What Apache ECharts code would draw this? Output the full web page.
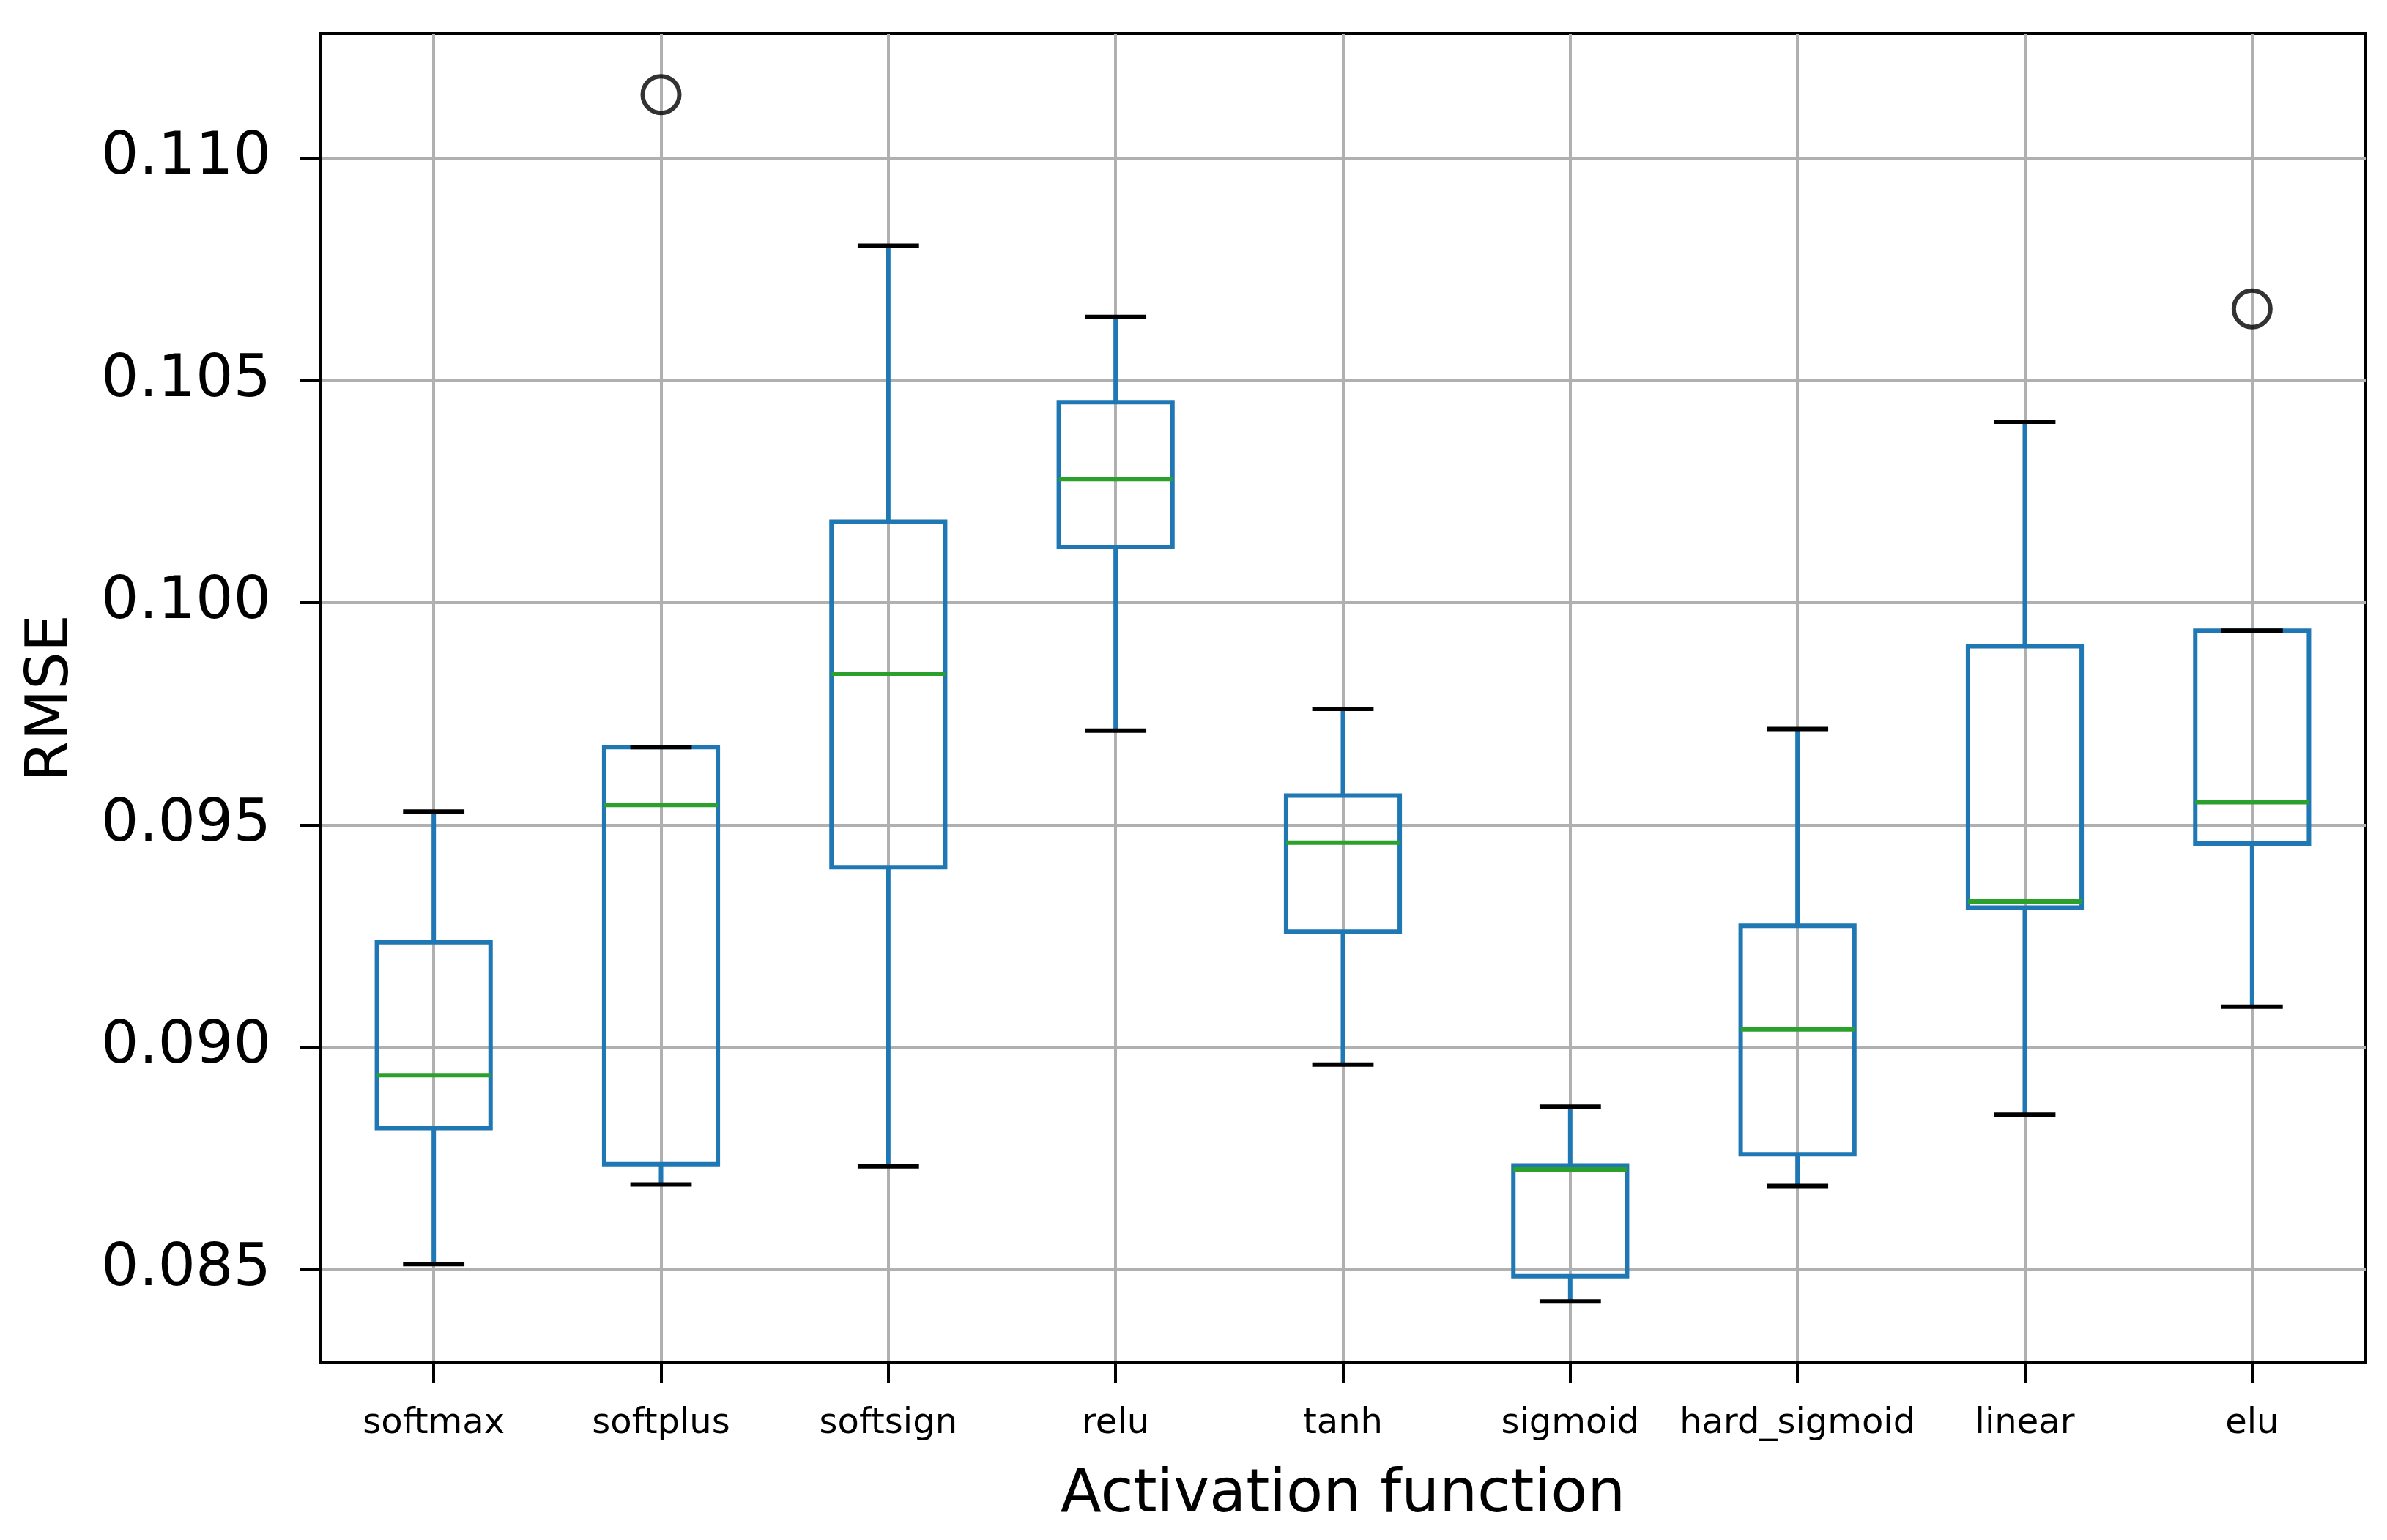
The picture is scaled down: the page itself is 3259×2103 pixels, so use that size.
<!DOCTYPE html>
<html>
<head>
<meta charset="utf-8">
<script src="https://cdn.jsdelivr.net/npm/echarts@6/dist/echarts.min.js"></script>
<style>
html, body { margin: 0; padding: 0; background: #fff; }
#chart { width: 3259px; height: 2103px; }
</style>
</head>
<body>
<div id="chart"></div>
<script>
const categories = ['softmax', 'softplus', 'softsign', 'relu', 'tanh', 'sigmoid', 'hard_sigmoid', 'linear', 'elu'];
const whiskerLow  = [0.08512, 0.08691, 0.08732, 0.09712, 0.08961, 0.08428, 0.08688, 0.08848, 0.09091];
const q1          = [0.08818, 0.08737, 0.09405, 0.10125, 0.09260, 0.08485, 0.08759, 0.09314, 0.09458];
const median      = [0.08937, 0.09545, 0.09840, 0.10278, 0.09460, 0.08725, 0.09040, 0.09328, 0.09551];
const q3          = [0.09236, 0.09675, 0.10182, 0.10451, 0.09566, 0.08734, 0.09273, 0.09902, 0.09937];
const whiskerHigh = [0.09530, 0.09675, 0.10803, 0.10643, 0.09761, 0.08866, 0.09716, 0.10407, 0.09937];
const outlierCategory = ['softplus', 'elu'];
const outlierValue    = [0.11143, 0.10661];
const yTicks = [0.085, 0.090, 0.095, 0.100, 0.105, 0.110];

const FONT = 'DejaVu Sans';
const BLUE = '#1f77b4', GREEN = '#2ca02c';

const boxData = categories.map((c, i) => [i, whiskerLow[i], q1[i], median[i], q3[i], whiskerHigh[i]]);
const outlierData = outlierCategory.map((c, k) => [categories.indexOf(c), outlierValue[k]]);

function renderBox(params, api) {
  const x = api.value(0);
  const lo = api.coord([x, api.value(1)]);
  const b1 = api.coord([x, api.value(2)]);
  const md = api.coord([x, api.value(3)]);
  const b3 = api.coord([x, api.value(4)]);
  const hi = api.coord([x, api.value(5)]);
  const w = api.size([1, 0])[0];
  const bh = w * 0.25, ch = w * 0.135;
  const cx = lo[0];
  const lw = 6;
  return {
    type: 'group',
    children: [
      { type: 'rect', shape: { x: cx - bh, y: b3[1], width: 2 * bh, height: b1[1] - b3[1] },
        style: { fill: 'none', stroke: BLUE, lineWidth: lw } },
      { type: 'line', shape: { x1: cx, y1: b1[1], x2: cx, y2: lo[1] }, style: { stroke: BLUE, lineWidth: lw } },
      { type: 'line', shape: { x1: cx, y1: b3[1], x2: cx, y2: hi[1] }, style: { stroke: BLUE, lineWidth: lw } },
      { type: 'line', shape: { x1: cx - ch, y1: lo[1], x2: cx + ch, y2: lo[1] }, style: { stroke: '#000', lineWidth: lw } },
      { type: 'line', shape: { x1: cx - ch, y1: hi[1], x2: cx + ch, y2: hi[1] }, style: { stroke: '#000', lineWidth: lw } },
      { type: 'line', shape: { x1: cx - bh, y1: md[1], x2: cx + bh, y2: md[1] }, style: { stroke: GREEN, lineWidth: lw } }
    ]
  };
}

const chart = echarts.init(document.getElementById('chart'), null, { renderer: 'canvas' });
chart.setOption({
  backgroundColor: '#fff',
  animation: false,
  grid: { left: 437, right: 29, top: 46, bottom: 242, show: true, borderColor: '#000', borderWidth: 4, backgroundColor: 'transparent' },
  xAxis: {
    type: 'value', min: -0.5, max: 8.5,
    name: 'Activation function', nameLocation: 'middle', nameGap: 141,
    nameTextStyle: { fontFamily: FONT, fontSize: 82, color: '#000' },
    axisLine: { show: true, onZero: false, lineStyle: { color: '#000', width: 4 } },
    axisTick: { show: true, length: 28, lineStyle: { color: '#000', width: 4 }, customValues: categories.map((c, i) => i) },
    axisLabel: { fontFamily: FONT, fontSize: 48, color: '#000', margin: 60,
      customValues: categories.map((c, i) => i),
      formatter: v => categories[Math.round(v)] || '' },
    splitLine: { show: true, lineStyle: { color: '#b0b0b0', width: 4 } }
  },
  yAxis: {
    type: 'value', min: 0.0829, max: 0.1128,
    name: 'RMSE', nameLocation: 'middle', nameGap: 326, nameRotate: 90,
    nameTextStyle: { fontFamily: FONT, fontSize: 81, color: '#000' },
    axisLine: { show: true, onZero: false, lineStyle: { color: '#000', width: 4 } },
    axisTick: { show: true, length: 28, lineStyle: { color: '#000', width: 4 }, customValues: yTicks },
    axisLabel: { fontFamily: FONT, fontSize: 81, color: '#000', margin: 67,
      customValues: yTicks, formatter: v => v.toFixed(3) },
    splitLine: { show: true, lineStyle: { color: '#b0b0b0', width: 4 } }
  },
  series: [
    { type: 'custom', renderItem: renderBox, data: boxData, encode: { x: 0, y: [1, 2, 3, 4, 5] }, z: 3 },
    { type: 'scatter', data: outlierData, symbol: 'circle', symbolSize: 50, z: 4,
      itemStyle: { color: 'rgba(0,0,0,0)', borderColor: '#000', borderWidth: 6 } }
  ]
});
</script>
</body>
</html>
